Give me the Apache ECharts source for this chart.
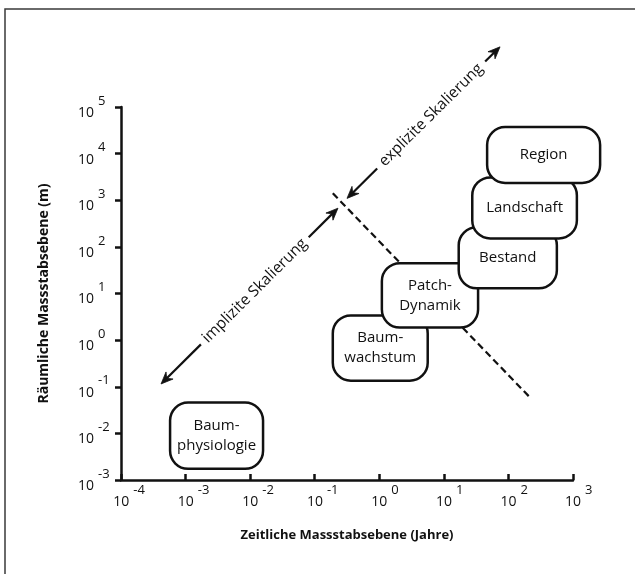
<!DOCTYPE html>
<html><head><meta charset="utf-8">
<script src="https://cdn.jsdelivr.net/npm/echarts@6/dist/echarts.min.js"></script>
<style>html,body{margin:0;padding:0;background:#fff}#c{width:635px;height:574px}</style>
</head><body><div id="c"></div>
<script>
// exponents of the decade ticks (10^n)
const xTicks = [-4, -3, -2, -1, 0, 1, 2, 3];
const yTicks = [-3, -2, -1, 0, 1, 2, 3, 4, 5];
// boxes (in log10 units)
const boxNames = ['Baum-\nphysiologie', 'Baum-\nwachstum', 'Patch-\nDynamik', 'Bestand', 'Landschaft', 'Region'];
const boxX0 = [-3.24, -0.72, 0.04, 1.23, 1.44, 1.67];
const boxX1 = [-1.80, 0.75, 1.53, 2.75, 3.06, 3.42];
const boxY0 = [-2.76, -0.87, 0.27, 1.11, 2.18, 3.37];
const boxY1 = [-1.34, 0.53, 1.65, 2.42, 3.49, 4.57];
// dashed divider
const dividerX = [-0.72, 2.32];
const dividerY = [3.15, -1.21];
// double arrows
const arrowNames = ['implizite Skalierung', 'explizite Skalierung'];
const arrowX0 = [-3.38, -0.50];
const arrowY0 = [-0.94, 3.04];
const arrowX1 = [-0.64, 1.87];
const arrowY1 = [2.83, 6.29];
const arrowLabelAt = [0.53, 0.55];

const FONT = '"Open Sans", "Noto Sans", sans-serif';
const INK = '#111';

const chart = echarts.init(document.getElementById('c'), null, {renderer: 'canvas'});

const richY = {
  b: {fontSize: 14, fontFamily: FONT, color: INK, lineHeight: 16, padding: [12, 0, 0, 0]},
  e: {fontSize: 13, fontFamily: FONT, color: INK, lineHeight: 16, padding: [0, 0, 12, 4]}
};
const richX = {
  s: {fontSize: 14, fontFamily: FONT, lineHeight: 16, padding: [12, 0, 0, 0]},
  b: {fontSize: 14, fontFamily: FONT, color: INK, lineHeight: 16, padding: [12, 0, 0, 0]},
  e: {fontSize: 13, fontFamily: FONT, color: INK, lineHeight: 16, padding: [0, 0, 12, 4]}
};
function expWidth(v) { return 4 + (v < 0 ? 4.5 : 0) + 7.5; }

const axisLineStyle = {color: INK, width: 2.5};

const option = {
  backgroundColor: '#fff',
  animation: false,
  grid: {left: 121, right: 62, top: 107, bottom: 94, outerBoundsMode: 'none', containLabel: false},
  graphic: [{
    type: 'polyline', silent: true,
    shape: {points: [[5, 574], [5, 9], [635, 9]]},
    style: {stroke: '#3a3a3a', lineWidth: 1.5, fill: null}
  }],
  xAxis: {
    type: 'value', min: xTicks[0], max: xTicks[xTicks.length - 1], interval: 1,
    name: 'Zeitliche Massstabsebene (Jahre)', nameLocation: 'middle', nameGap: 49,
    nameTextStyle: {fontFamily: FONT, fontWeight: 'bold', fontSize: 13, color: INK},
    axisLine: {show: true, onZero: false, lineStyle: axisLineStyle},
    axisTick: {show: true, inside: true, length: 6, lineStyle: axisLineStyle},
    splitLine: {show: false},
    axisLabel: {
      show: true, margin: 8, showMinLabel: true, showMaxLabel: true,
      rich: Object.assign({}, richX),
      align: 'center'
    }
  },
  yAxis: {
    type: 'value', min: yTicks[0], max: yTicks[yTicks.length - 1], interval: 1,
    name: 'Räumliche Massstabsebene (m)', nameLocation: 'middle', nameGap: 70,
    nameTextStyle: {fontFamily: FONT, fontWeight: 'bold', fontSize: 14, color: INK},
    axisLine: {show: true, onZero: false, lineStyle: axisLineStyle},
    axisTick: {show: true, inside: false, length: 6, lineStyle: axisLineStyle},
    splitLine: {show: false},
    axisLabel: {
      show: true, margin: 43, align: 'left', showMinLabel: true, showMaxLabel: true,
      formatter: v => '{b|10}{e|' + v + '}',
      rich: richY
    }
  },
  series: [
    {
      type: 'line', z: 1, silent: true, showSymbol: false, symbol: 'none',
      data: dividerX.map((x, i) => [x, dividerY[i]]),
      lineStyle: {color: INK, width: 2.2, type: [7, 4]}
    },
    {
      type: 'custom', z: 2, silent: true, clip: false,
      data: boxNames.map((n, i) => [boxX0[i], boxX1[i], boxY0[i], boxY1[i]]),
      encode: {x: [0, 1], y: [2, 3]},
      renderItem: function (params, api) {
        const p0 = api.coord([api.value(0), api.value(3)]);
        const p1 = api.coord([api.value(1), api.value(2)]);
        return {
          type: 'group', children: [
            {type: 'rect', shape: {x: p0[0], y: p0[1], width: p1[0] - p0[0], height: p1[1] - p0[1], r: 18},
             style: {fill: '#fff', stroke: INK, lineWidth: 2.5}},
            {type: 'text', x: (p0[0] + p1[0]) / 2, y: (p0[1] + p1[1]) / 2,
             style: {text: boxNames[params.dataIndex], align: 'center', verticalAlign: 'middle',
                     fontSize: 15, fontFamily: FONT, fill: INK, lineHeight: 20}}
          ]
        };
      }
    },
    {
      type: 'custom', z: 3, silent: true, clip: false,
      data: arrowNames.map((n, i) => [arrowX0[i], arrowY0[i], arrowX1[i], arrowY1[i]]),
      encode: {x: [0, 2], y: [1, 3]},
      renderItem: function (params, api) {
        const i = params.dataIndex;
        const a = api.coord([api.value(0), api.value(1)]);
        const b = api.coord([api.value(2), api.value(3)]);
        const dx = b[0] - a[0], dy = b[1] - a[1], L = Math.hypot(dx, dy);
        const ux = dx / L, uy = dy / L;
        const t = arrowLabelAt[i];
        const c = [a[0] + dx * t, a[1] + dy * t];
        const g = 76;
        function head(tip, sx, sy) {
          const hl = 12, hw = 5, nl = 8;
          return {type: 'polygon', shape: {points: [
            tip,
            [tip[0] - sx * hl + (-sy) * hw, tip[1] - sy * hl + sx * hw],
            [tip[0] - sx * nl, tip[1] - sy * nl],
            [tip[0] - sx * hl - (-sy) * hw, tip[1] - sy * hl - sx * hw]
          ]}, style: {fill: INK, stroke: INK, lineWidth: 0.8}};
        }
        return {
          type: 'group', children: [
            {type: 'line', shape: {x1: a[0] + ux * 6, y1: a[1] + uy * 6, x2: c[0] - ux * g, y2: c[1] - uy * g},
             style: {stroke: INK, lineWidth: 2.2}},
            {type: 'line', shape: {x1: c[0] + ux * g, y1: c[1] + uy * g, x2: b[0] - ux * 6, y2: b[1] - uy * 6},
             style: {stroke: INK, lineWidth: 2.2}},
            head(a, -ux, -uy),
            head(b, ux, uy),
            {type: 'text', x: c[0], y: c[1], rotation: Math.atan2(-dy, dx),
             style: {text: arrowNames[i], align: 'center', verticalAlign: 'middle',
                     fontSize: 15.5, fontFamily: FONT, fill: INK}}
          ]
        };
      }
    }
  ]
};
// spacer widths so that "10" sits centred on each x tick
option.xAxis.axisLabel.formatter = function (v) {
  return '{s' + (v < 0 ? 'n' : 'p') + '| }{b|10}{e|' + v + '}';
};
option.xAxis.axisLabel.rich.sn = Object.assign({}, richX.s, {width: expWidth(-1)});
option.xAxis.axisLabel.rich.sp = Object.assign({}, richX.s, {width: expWidth(1)});
chart.setOption(option);
</script>
</body></html>
